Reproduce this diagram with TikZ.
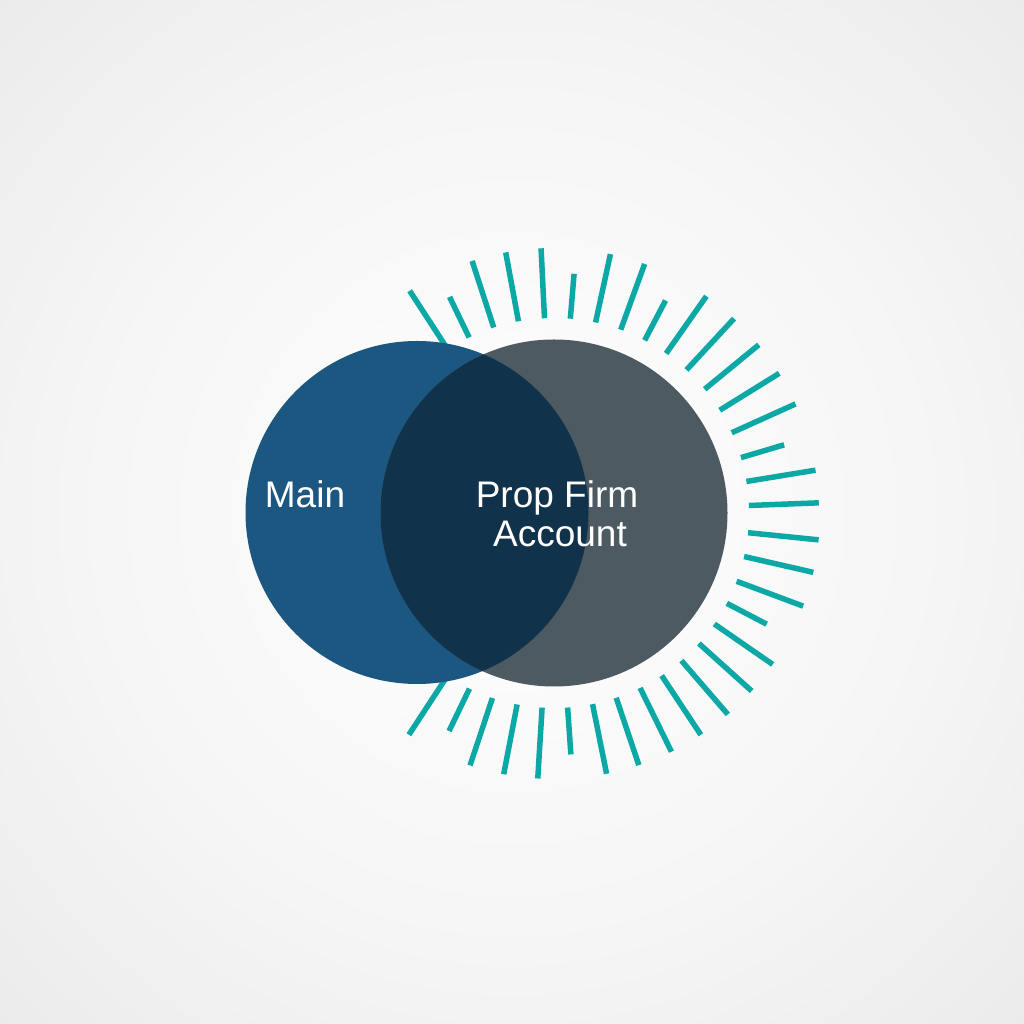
\documentclass[tikz,border=0pt]{standalone}
\usepackage{fontspec}
\setmainfont{Liberation Sans}
\usetikzlibrary{calc}
\definecolor{raycol}{RGB}{12,168,166}
\definecolor{mainblue}{RGB}{28,87,129}
\definecolor{slate}{RGB}{78,90,97}
\definecolor{overlapcol}{RGB}{17,50,75}
\definecolor{bgA}{RGB}{254,254,254}
\definecolor{bgB}{RGB}{246,246,246}
\definecolor{bgC}{RGB}{225,225,225}
\definecolor{bgD}{RGB}{204,204,204}
\pgfdeclareradialshading{bgshade}{\pgfpoint{0bp}{0bp}}{color(0bp)=(bgA); color(20bp)=(bgB); color(50bp)=(bgC); color(72bp)=(bgD)}
\begin{document}
\begin{tikzpicture}[x=1pt,y=1pt,
  raystyle/.style={draw=raycol, line width=5.5pt},
  label/.style={text=white, font=\fontsize{37}{40}\selectfont, inner sep=0pt, anchor=base}]
\useasboundingbox (0,0) rectangle (1024,1024);
\shade[shading=bgshade] (0,0) rectangle (1024,1024);
\coordinate (c) at (554,511);
\foreach \a/\r in {123/265,115.8/240,108/265,100.5/265,92.8/265,85.2/240,77.7/265,70/265,62.3/240,54.9/265,47.2/265,39.4/265,31.8/265,24.3/265,16.5/240,9.3/265,2.2/265,
  -5.8/266,-12.9/266,-20.5/266,-27.6/240,-34.7/266,-42/266,-49.2/266,-56.5/266,-63.8/266,-71.4/266,-78.6/266,-86/242,-93.5/266,-100.9/266,-108.4/266,-115.7/242,-123.2/265}
  \draw[raystyle] ($(c)+(\a:195)$) -- ($(c)+(\a:\r)$);
\fill[mainblue] (417,511.5) circle (171.5);
\fill[slate] (c) circle (173.5);
\begin{scope}
  \clip (417,511.5) circle (171.5);
  \fill[overlapcol] (c) circle (173.5);
\end{scope}
\node[label] (main) at (305,516.3) {Main};
\node[label] (prop) at (557,516.3) {Prop Firm};
\node[label] (acct) at (560,477.3) {Account};
\end{tikzpicture}
\end{document}
